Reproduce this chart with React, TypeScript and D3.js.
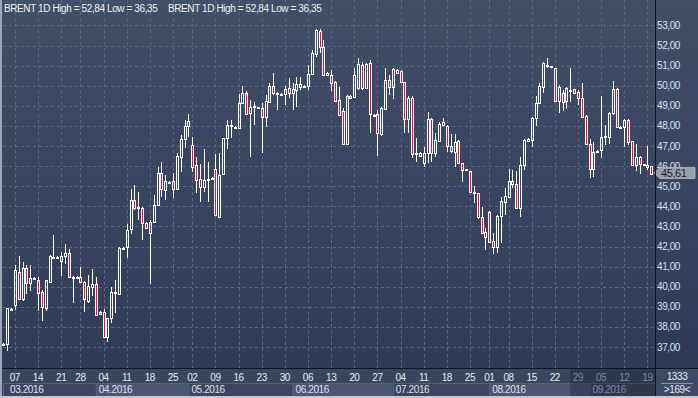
import React from "react";
import * as d3 from "d3";

// ---- data ----
const OPEN = [37.13,37.15,38.87,39.10,40.75,39.37,40.95,40.17,40.40,40.33,39.72,38.96,40.25,41.47,41.47,41.30,41.53,41.66,40.50,40.48,40.50,40.22,39.29,40.00,40.12,38.63,38.73,37.51,38.43,39.68,39.64,41.92,41.99,42.86,44.31,43.90,43.90,43.15,42.66,43.20,44.06,45.64,44.81,45.20,45.26,44.85,46.47,47.33,48.00,47.05,46.05,45.34,44.98,45.32,45.37,45.84,43.48,45.59,47.38,47.98,47.97,47.88,49.16,49.65,48.64,48.94,48.92,48.91,48.46,49.20,50.00,49.63,49.60,49.59,49.87,49.65,49.79,50.07,49.98,49.99,50.60,51.56,52.70,51.94,50.53,50.53,50.17,49.27,48.74,47.10,49.49,49.46,49.87,51.03,49.90,51.14,48.50,48.58,47.60,48.83,50.28,49.92,50.78,50.73,50.18,48.33,49.37,46.60,46.64,46.17,46.64,48.33,46.67,47.25,48.05,48.00,47.00,46.72,47.25,46.14,45.83,45.76,44.73,44.65,43.48,42.74,43.73,42.27,41.96,43.52,44.23,44.45,45.26,45.11,43.90,46.05,47.27,47.30,48.38,49.12,49.95,51.02,50.96,50.86,49.25,49.62,49.25,49.77,49.82,49.70,49.37,48.49,47.10,45.84,46.73,46.80,47.51,47.46,48.63,49.82,47.97,47.93,48.29,47.25,46.05,46.47,46.08,46.05,46.00];
const HIGH = [37.22,38.95,38.93,41.08,41.53,41.25,41.08,41.08,40.50,40.50,39.84,40.35,41.60,42.57,41.52,41.74,42.12,41.86,40.55,40.52,41.00,40.30,40.58,40.87,40.50,38.78,38.90,38.45,40.00,40.33,41.99,42.00,43.12,44.85,45.05,44.70,43.98,43.23,43.32,44.56,45.97,46.22,45.56,45.25,45.64,46.64,47.55,48.29,48.59,47.43,46.47,46.09,46.83,46.22,45.48,46.58,46.63,47.41,48.29,48.29,48.00,49.59,49.99,49.74,49.29,49.21,48.95,49.12,49.54,50.12,50.62,49.70,49.63,49.99,50.37,50.12,50.42,50.42,50.02,51.04,51.78,52.84,52.80,52.27,50.70,50.78,50.23,49.95,48.87,49.54,49.52,50.86,51.36,51.20,51.14,51.28,48.60,48.78,48.93,50.86,50.53,50.86,50.81,50.78,50.20,49.48,49.50,47.38,46.70,46.97,48.71,48.38,47.63,48.21,48.38,48.05,47.60,47.60,47.30,46.17,45.87,45.78,45.01,44.68,43.98,42.90,43.78,42.69,43.57,44.48,44.90,45.84,45.81,45.76,46.47,47.35,47.38,48.46,49.49,50.12,51.19,51.36,51.00,50.88,50.05,49.79,49.95,50.86,49.85,49.79,50.12,48.53,47.33,47.21,46.78,49.49,48.04,48.71,50.25,49.87,48.00,48.34,48.34,47.27,47.08,46.50,46.12,47.00,46.02];
const LOW = [37.08,36.82,38.84,38.84,39.34,39.29,39.64,39.80,40.33,38.81,38.29,38.79,40.20,41.41,41.44,40.55,41.13,40.42,39.20,40.45,40.17,38.76,39.17,39.54,38.54,38.60,37.48,37.23,38.21,38.71,39.59,41.86,41.44,42.61,43.82,43.33,42.34,42.86,40.12,43.15,44.01,44.46,44.31,45.17,44.40,44.81,45.72,46.88,47.46,45.72,44.68,44.23,44.73,44.23,45.30,43.52,43.40,45.55,46.85,47.38,47.90,47.85,49.12,48.55,46.46,48.06,48.88,46.66,47.93,49.15,49.54,48.78,49.57,49.04,49.40,48.78,48.96,49.80,49.95,49.79,50.53,51.44,51.61,50.48,50.48,49.74,49.20,48.50,47.05,47.05,49.34,49.40,49.80,49.80,49.85,47.63,48.45,46.50,47.51,48.78,49.54,49.35,50.60,50.15,47.66,47.63,46.40,46.22,46.45,45.97,46.14,46.22,46.44,47.21,48.02,46.72,46.64,45.97,46.10,45.22,45.80,44.65,44.15,43.35,42.62,41.83,42.16,41.63,41.66,42.19,43.57,44.40,44.90,43.87,43.48,45.81,47.24,46.93,48.00,49.09,49.62,50.86,50.90,49.20,48.63,48.76,48.83,49.20,49.62,49.04,48.38,47.05,45.39,45.47,46.70,46.39,47.05,47.10,48.55,47.91,47.93,46.97,47.05,46.00,45.76,45.59,46.00,45.81,45.58];
const CLOSE = [37.16,38.92,38.90,40.83,39.40,40.91,40.17,40.45,40.43,39.70,38.97,40.33,41.53,41.50,41.49,41.53,41.66,40.47,40.42,40.50,40.22,39.37,40.05,40.12,38.59,38.73,37.51,38.43,39.75,39.72,41.94,41.95,42.82,44.31,43.90,43.96,43.15,42.91,43.22,44.06,45.64,44.85,45.26,45.22,44.85,46.52,47.35,48.00,48.24,45.97,45.31,44.98,45.31,45.36,45.40,43.55,45.56,47.38,48.04,48.02,47.94,49.16,49.65,48.58,48.96,48.98,48.90,48.46,49.24,50.00,49.62,49.66,49.58,49.84,49.65,49.82,50.07,49.95,50.00,50.60,51.61,52.75,51.94,50.53,50.62,50.12,49.23,48.54,47.10,49.49,49.37,50.53,51.10,49.87,51.07,48.58,48.56,47.63,48.88,50.28,49.95,50.81,50.65,50.17,48.33,49.40,46.60,46.65,46.50,46.64,48.33,46.67,47.30,48.09,48.18,47.00,46.75,47.21,46.14,45.81,45.85,44.70,44.65,43.45,42.69,42.49,42.24,41.96,43.52,44.26,44.51,45.26,45.09,43.90,46.05,47.30,47.35,48.38,49.12,49.99,51.11,51.05,50.92,49.25,49.95,49.17,49.87,49.80,49.65,49.37,48.43,47.10,45.84,46.72,46.76,47.46,47.43,48.63,49.82,47.96,47.95,48.29,47.21,46.05,46.47,46.10,46.11,45.97,45.61];

const DAY_TICK_INDEX = [3,9,15,20,26,32,38,44,49,55,61,67,73,79,85,91,97,103,109,115,121,126,131,137,143,149,155,161,167];
const DAY_TICK_LABELS = ["07","14","21","28","04","11","18","25","02","09","16","23","30","06","13","20","27","04","11","18","25","01","08","15","22","29","05","12","19"];
const MONTH_START_INDEX = [0,24,48,75,101,126,152];
const MONTH_LABELS = ["03.2016","04.2016","05.2016","06.2016","07.2016","08.2016","09.2016"];
const Y_TICKS = [37,38,39,40,41,42,43,44,45,46,47,48,49,50,51,52,53];
const LAST_PRICE = 45.61;
const HEADER_TEXT = "BRENT 1D High = 52,84 Low = 36,35";
const BAR_TOTAL = "1333";
const BAR_VISIBLE = ">169<";
const DIM_FROM_INDEX = 147;

const W = 698, H = 398;
const PLOT_R = 655, PLOT_B = 368;
const RED = "#e3123f";
const FONT = "'Liberation Sans', Arial, sans-serif";
const fmt = (v: number) => v.toFixed(2).replace(".", ",");

export default function App() {
  const x = d3.scaleLinear().domain([0, OPEN.length - 1]).range([3.3, 651.3]);
  const y = d3.scaleLinear().domain([37, 53]).range([347, 25.4]);
  const dimX = x(DIM_FROM_INDEX);
  const txt = { fontFamily: FONT, fontSize: 10, letterSpacing: -0.4 } as const;
  const py = y(LAST_PRICE) - 1;

  return (
    <div style={{ position: "absolute", left: 0, top: 0, width: W, height: H }}>
      <svg width={W} height={H} style={{ display: "block" }}>
        <defs>
          <linearGradient id="bg" x1="0" y1="0" x2="0" y2="1">
            <stop offset="0" stopColor="#434f69" />
            <stop offset="1" stopColor="#2d3956" />
          </linearGradient>
        </defs>
        <rect x={0} y={0} width={W} height={H} fill="url(#bg)" />
        {/* horizontal grid */}
        {Y_TICKS.map((v) => (
          <line key={"h" + v} x1={3} x2={PLOT_R} y1={Math.round(y(v)) + 0.5} y2={Math.round(y(v)) + 0.5}
            stroke="#5c6882" strokeDasharray="3,3" />
        ))}
        {/* vertical grid */}
        {DAY_TICK_INDEX.map((idx) => (
          <line key={"v" + idx} x1={Math.round(x(idx)) + 0.5} x2={Math.round(x(idx)) + 0.5} y1={0} y2={PLOT_B}
            stroke="#5c6882" strokeDasharray="3,3" />
        ))}
        {/* candles */}
        {OPEN.map((o, i) => {
          const c = CLOSE[i], h = HIGH[i], l = LOW[i];
          const cx = Math.round(x(i));
          const up = c >= o;
          const yt = Math.round(y(Math.max(o, c)));
          const yb = Math.round(y(Math.min(o, c)));
          const bh = Math.max(1, yb - yt);
          const yh = Math.round(y(h));
          const yl = Math.round(y(l));
          return (
            <g key={i}>
              {yh < yt && <line x1={cx + 0.5} x2={cx + 0.5} y1={yh} y2={yt} stroke="#ffffff" />}
              {yl > yt + bh + 1 && <line x1={cx + 0.5} x2={cx + 0.5} y1={yt + bh + 1} y2={yl} stroke="#ffffff" />}
              <rect x={cx - 0.5} y={yt + 0.5} width={2} height={bh} fill={up ? "none" : RED} stroke="#ffffff" strokeWidth={1} />
            </g>
          );
        })}
        {/* header */}
        <text x={4} y={12} fill="#eef1f6" {...txt}>{HEADER_TEXT}</text>
        <text x={168} y={12} fill="#eef1f6" {...txt}>{HEADER_TEXT}</text>

        {/* right axis */}
        <rect x={PLOT_R} y={0} width={W - PLOT_R} height={PLOT_B} fill="url(#bg)" />
        {Y_TICKS.map((v) => (
          <text key={"yl" + v} x={657} y={y(v) + 3.5} fill="#d3e1f4" {...txt}>{fmt(v)}</text>
        ))}
        <path d={`M${PLOT_R - 1},${py} L${PLOT_R + 5},${py - 5.5} L695,${py - 5.5} L695,${py + 5.5} L${PLOT_R + 5},${py + 5.5} Z`}
          fill="#99a0aa" stroke="#b8bdc5" strokeWidth={0.8} />
        <text x={661} y={py + 3.8} fill="#1c2231" {...txt} fontSize={11}>{fmt(LAST_PRICE)}</text>

        {/* bottom axis */}
        <rect x={0} y={PLOT_B} width={W} height={H - PLOT_B} fill="#3a4560" />
        {MONTH_LABELS.map((m, k) => {
          const x0 = k === 0 ? 3 : x(MONTH_START_INDEX[k]);
          const x1 = k === MONTH_LABELS.length - 1 ? PLOT_R : x(MONTH_START_INDEX[k + 1]);
          return (
            <g key={m}>
              <rect x={x0} y={383} width={x1 - x0} height={13} fill={k % 2 === 1 ? "#4b5672" : "#3a4560"} />
              <line x1={x0} x2={x1} y1={383.5} y2={383.5} stroke="#56617c" />
              <line x1={x0 + 0.5} x2={x0 + 0.5} y1={383} y2={396} stroke="#5a6580" />
            </g>
          );
        })}
        <rect x={dimX} y={369} width={PLOT_R - dimX} height={27} fill="rgba(22,28,46,0.35)" />
        {DAY_TICK_INDEX.map((idx, k) => (
          <text key={"d" + k} x={x(idx)} y={381} textAnchor="middle"
            fill={x(idx) > dimX ? "#7f8aa0" : "#e4eaf2"} {...txt}>{DAY_TICK_LABELS[k]}</text>
        ))}
        {MONTH_LABELS.map((m, k) => {
          const x0 = k === 0 ? 7 : x(MONTH_START_INDEX[k]);
          return (
            <text key={"ml" + m} x={x0 + 3} y={393} fill={x0 > dimX ? "#7f8aa0" : "#dde3ec"} {...txt}>{m}</text>
          );
        })}
        <line x1={0} x2={W} y1={PLOT_B + 0.5} y2={PLOT_B + 0.5} stroke="#0f1422" />
        {/* corner box */}
        <rect x={PLOT_R + 1} y={PLOT_B + 1} width={W - PLOT_R - 1} height={H - PLOT_B - 3} fill="#3e4965" />
        <text x={677} y={380} textAnchor="middle" fill="#e4eaf2" {...txt}>{BAR_TOTAL}</text>
        <line x1={661} x2={693} y1={383.5} y2={383.5} stroke="#8a94a8" />
        <text x={677} y={393} textAnchor="middle" fill="#e4eaf2" {...txt}>{BAR_VISIBLE}</text>
        <line x1={PLOT_R + 0.5} x2={PLOT_R + 0.5} y1={0} y2={H - 2} stroke="#0f1422" />
        {/* frame */}
        <rect x={0} y={0} width={2} height={H} fill="#9ea7b8" />
        <rect x={0} y={H - 2} width={W} height={2} fill="#c4c8d0" />
      </svg>
    </div>
  );
}
